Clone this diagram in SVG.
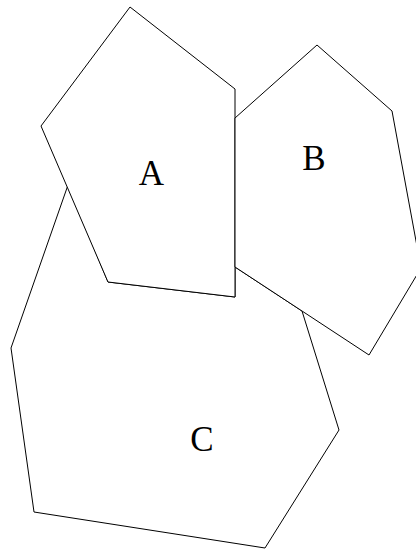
<svg xmlns="http://www.w3.org/2000/svg" width="416" height="549" viewBox="0 0 416 549">
<style>
.shape{fill:#fff;stroke:#000;stroke-width:1}
.lbl{font-family:"Liberation Serif","Times New Roman",serif;font-size:35px;fill:#000;text-anchor:middle}
</style>
<rect width="416" height="549" fill="#fff"/>
<g id="C">
<polygon class="shape" points="68,185 108,282 235,297 235,267 302,311 339,430 265,548 34,512 11,348"/>
<text class="lbl" x="202" y="451">C</text>
</g>
<g id="A">
<polygon class="shape" points="130,7 235,89 235,297 108,282 41,126"/>
<text class="lbl" x="151.5" y="185">A</text>
</g>
<g id="B">
<polygon class="shape" points="317,45 392,111 421,268 369,355 235,267 235,118"/>
<text class="lbl" x="314" y="170">B</text>
</g>
<g id="connectors"></g>
</svg>
